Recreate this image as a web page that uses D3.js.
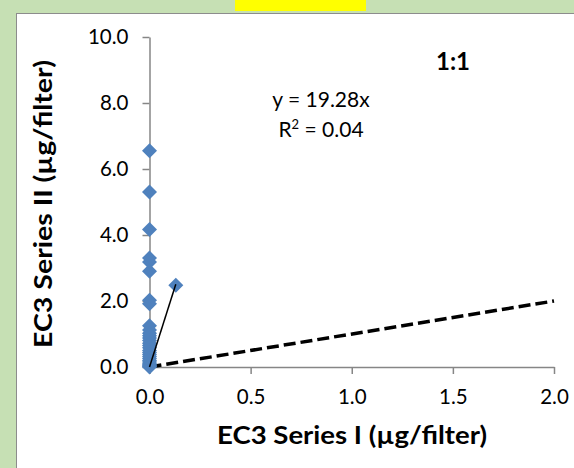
<!DOCTYPE html>
<html>
<head>
<meta charset="utf-8">
<script src="https://cdn.jsdelivr.net/npm/d3@7"></script>
<style>
  html, body { margin: 0; padding: 0; background: #c6e0b4; }
  svg { display: block; }
</style>
</head>
<body>
<svg id="chart" width="574" height="468"></svg>
<script>
// EC3 measured on filters: Series I (x) vs Series II (y), µg/filter
const seriesI = [
  0.00, 0.00, 0.00, 0.00, 0.00, 0.00, 0.00, 0.00, 0.00,
  0.13,
  0.00, 0.00, 0.00, 0.00, 0.00, 0.00, 0.00, 0.00, 0.00, 0.00,
  0.00, 0.00, 0.00, 0.00, 0.00, 0.00, 0.00, 0.00, 0.00, 0.00
];
const seriesII = [
  6.55, 5.30, 4.17, 3.30, 3.18, 2.90, 2.02, 1.92, 1.25,
  2.48,
  1.12, 1.02, 0.95, 0.88, 0.80, 0.72, 0.65, 0.58, 0.50, 0.44,
  0.38, 0.32, 0.26, 0.20, 0.15, 0.10, 0.07, 0.04, 0.02, 0.00
];
const xTicks = [0, 0.5, 1.0, 1.5, 2.0];
const yTicks = [0, 2, 4, 6, 8, 10];
const slope = 19.28;     // least-squares fit through origin
const rSquared = 0.04;

const points = seriesI.map((x, i) => ({ x, y: seriesII[i] }));

const svg = d3.select("#chart");
const font = "Lato, 'Open Sans', sans-serif";

// header tab and chart panel
svg.append("rect").attr("x", 235).attr("y", 0).attr("width", 131).attr("height", 11).attr("fill", "#ffff00");
svg.append("rect").attr("x", 16.5).attr("y", 13.5).attr("width", 600).attr("height", 500)
  .attr("fill", "#ffffff").attr("stroke", "#8c8c8c").attr("stroke-width", 1);

const x = d3.scaleLinear().domain([0, 2]).range([149.5, 554]);
const y = d3.scaleLinear().domain([0, 10]).range([367, 37]);

const axisColor = "#868686";

const gx = svg.append("g").attr("transform", `translate(0,${y(0)})`)
  .call(d3.axisBottom(x).tickValues(xTicks).tickFormat(d3.format(".1f"))
    .tickSize(7).tickSizeOuter(0).tickPadding(15));
const gy = svg.append("g").attr("transform", `translate(${x(0)},0)`)
  .call(d3.axisLeft(y).tickValues(yTicks).tickFormat(d3.format(".1f"))
    .tickSize(7).tickSizeOuter(0).tickPadding(14));

[gx, gy].forEach(g => {
  g.select(".domain").attr("stroke", axisColor).attr("stroke-width", 1.5);
  g.selectAll(".tick line").attr("stroke", axisColor).attr("stroke-width", 1.5);
  g.selectAll(".tick text").attr("fill", "#000").style("font-family", font).style("font-size", "20.5px");
});

// 1:1 reference line
svg.append("line")
  .attr("x1", x(0)).attr("y1", y(0)).attr("x2", x(2)).attr("y2", y(2))
  .attr("stroke", "#000").attr("stroke-width", 3.5).attr("stroke-dasharray", "12,5");

// markers
const half = 7.5;
svg.append("g").selectAll("path").data(points).join("path")
  .attr("d", d => {
    const cx = x(d.x), cy = y(d.y);
    return `M${cx},${cy - half}L${cx + half},${cy}L${cx},${cy + half}L${cx - half},${cy}Z`;
  })
  .attr("fill", "#4f81bd");

// linear trendline over the data's x range
const xMax = d3.max(seriesI);
svg.append("line")
  .attr("x1", x(0)).attr("y1", y(0)).attr("x2", x(xMax)).attr("y2", y(slope * xMax))
  .attr("stroke", "#000").attr("stroke-width", 1.5);

// fit annotation
const eq = svg.append("text").attr("text-anchor", "middle")
  .style("font-family", font).style("font-size", "21px").attr("fill", "#000");
eq.append("tspan").attr("x", 321).attr("y", 107).text(`y = ${slope.toFixed(2)}x`);
const r2 = eq.append("tspan").attr("x", 321).attr("y", 137);
r2.append("tspan").text("R");
r2.append("tspan").attr("dy", -8).style("font-size", "13px").text("2");
r2.append("tspan").attr("dy", 8).text(` = ${rSquared.toFixed(2)}`);

svg.append("text").attr("x", 453).attr("y", 70).attr("text-anchor", "middle")
  .style("font-family", font).style("font-size", "24px").style("font-weight", "bold")
  .text("1:1");

// axis titles
svg.append("text").attr("x", 352).attr("y", 444).attr("text-anchor", "middle")
  .attr("textLength", 270).attr("lengthAdjust", "spacingAndGlyphs")
  .style("font-family", font).style("font-size", "25px").style("font-weight", "bold")
  .text("EC3 Series I (µg/filter)");
svg.append("text").attr("transform", "translate(52,204) rotate(-90)").attr("text-anchor", "middle")
  .attr("textLength", 288).attr("lengthAdjust", "spacingAndGlyphs")
  .style("font-family", font).style("font-size", "25px").style("font-weight", "bold")
  .text("EC3 Series II (µg/filter)");
</script>
</body>
</html>
